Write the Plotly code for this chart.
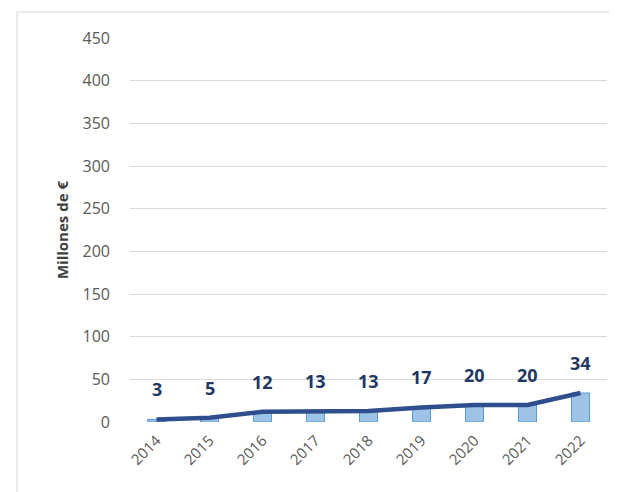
import plotly.graph_objects as go

years = ["2014", "2015", "2016", "2017", "2018", "2019", "2020", "2021", "2022"]
values = [3, 5, 12, 13, 13, 17, 20, 20, 34]
y_ticks = [0, 50, 100, 150, 200, 250, 300, 350, 400, 450]

xpos = list(range(len(years)))

# page has an 8px body margin; compensate so elements land at reference pixels
OFF = 8
W, H = 617 - OFF, 492 - OFF
L, R, T, B = 130 - OFF, 10, 38 - OFF, 70
pw, ph = W - L - R, H - T - B

fig = go.Figure()
fig.add_trace(go.Bar(
    x=xpos, y=values, width=0.34,
    marker=dict(color="#9DC3E6", line=dict(color="#5B9BD5", width=1)),
    hoverinfo="skip", showlegend=False,
))
fig.add_trace(go.Scatter(
    x=xpos, y=values, mode="lines",
    line=dict(color="#2F4E8E", width=4.5),
    showlegend=False,
))
for xi, v in zip(xpos, values):
    fig.add_annotation(
        x=xi, y=v, xref="x", yref="y", text=f"<b>{v}</b>", showarrow=False,
        yshift=30, font=dict(size=18, color="#1F3864", family="Open Sans"),
    )

# outer frame (left and top edges)
fx = (17 - OFF - L) / pw
fy_top = 1 + (T - (12 - OFF)) / ph
fy_bot = -(B + 20) / ph
fig.add_shape(type="path", xref="paper", yref="paper",
              path=f"M {fx} {fy_bot} L {fx} {fy_top} L {1 + (R + 20) / pw} {fy_top}",
              line=dict(color="#D9D9D9", width=1.2))

fig.update_layout(
    width=W, height=H,
    margin=dict(l=L, r=R, t=T, b=B, autoexpand=False),
    paper_bgcolor="white", plot_bgcolor="white",
    font=dict(family="Open Sans", color="#595959"),
    xaxis=dict(range=[-0.5, len(years) - 0.5], tickvals=xpos, ticktext=years,
               tickangle=-45, tickfont=dict(size=15, color="#595959"),
               ticklabelstandoff=6,
               showgrid=False, showline=False, zeroline=False, ticks="", automargin=False),
    yaxis=dict(range=[0, 450], tickvals=y_ticks, ticktext=[str(t) for t in y_ticks],
               tickfont=dict(size=16, color="#595959"),
               gridcolor="#D9D9D9", gridwidth=1, zeroline=False, showline=False,
               ticks="", ticklabelstandoff=19, automargin=False,
               title=dict(text="<b>Millones de €</b>", font=dict(size=15, color="#404040"),
                          standoff=10)),
)
fig.write_html("out.html")
